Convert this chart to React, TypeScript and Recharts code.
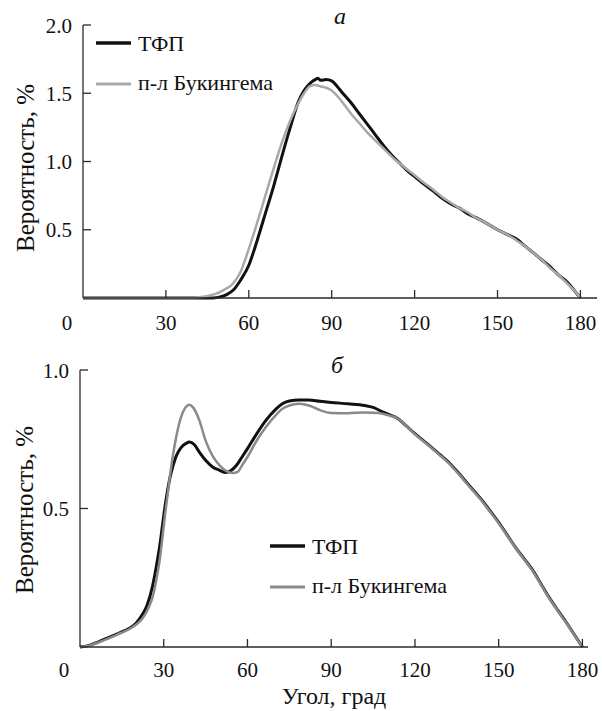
import React from 'react';
import { LineChart, Line, XAxis, YAxis, Legend } from 'recharts';

const FONT = "'Liberation Serif', 'Tinos', 'Times New Roman', 'DejaVu Serif', serif";

const angleTicks = [0, 30, 60, 90, 120, 150, 180];
const topValueTicks = [0.5, 1.0, 1.5, 2.0];
const bottomValueTicks = [0.5, 1.0];
const seriesNames = ['ТФП', 'п-л Букингема'];
const panelLabels = ['а', 'б'];
const axisTitles = { x: 'Угол, град', y: 'Вероятность, %' };

// Panel а
const topTfpAngles = [0, 10, 20, 30, 40, 45, 47, 50, 52, 54.5, 57, 60, 63, 66, 69, 72, 75, 78, 80, 82, 84, 85, 86, 88, 90, 92, 94, 97, 100, 103, 106, 109, 112, 115, 118, 120, 123, 127, 130, 133, 136, 139, 142, 145, 150, 154, 157, 160, 163, 166, 169, 172, 175, 178, 180];
const topTfpValues = [0, 0, 0, 0, 0, 0, 0, 0.01, 0.025, 0.06, 0.13, 0.24, 0.42, 0.62, 0.82, 1.04, 1.25, 1.44, 1.52, 1.57, 1.6, 1.61, 1.595, 1.6, 1.59, 1.55, 1.5, 1.43, 1.35, 1.27, 1.19, 1.11, 1.04, 0.98, 0.92, 0.89, 0.84, 0.78, 0.73, 0.69, 0.66, 0.62, 0.59, 0.56, 0.5, 0.46, 0.43, 0.38, 0.33, 0.28, 0.23, 0.17, 0.12, 0.05, 0];
const topBuckAngles = [0, 10, 20, 30, 40, 42, 45, 48, 51, 54, 57, 60, 63, 66, 69, 72, 75, 78, 80, 82, 84, 86, 88, 90, 92, 94, 97, 100, 103, 106, 109, 112, 115, 118, 120, 123, 127, 130, 133, 136, 139, 142, 145, 150, 154, 157, 160, 163, 166, 169, 172, 175, 178, 180];
const topBuckValues = [0, 0, 0, 0, 0, 0.005, 0.015, 0.03, 0.06, 0.1, 0.19, 0.36, 0.55, 0.75, 0.95, 1.14, 1.3, 1.43, 1.5, 1.55, 1.56, 1.55, 1.54, 1.52, 1.48, 1.43, 1.35, 1.28, 1.21, 1.15, 1.09, 1.03, 0.98, 0.93, 0.9, 0.85, 0.79, 0.74, 0.7, 0.66, 0.63, 0.59, 0.56, 0.5, 0.46, 0.42, 0.38, 0.33, 0.28, 0.22, 0.17, 0.11, 0.05, 0];

// Panel б
const botTfpAngles = [0, 3, 7, 10, 14, 17.7, 20, 22.5, 24, 26, 27.5, 28.5, 30.5, 32, 33.2, 34.5, 36.2, 38, 39.2, 41, 43, 45, 47.5, 50, 52.3, 54, 56, 58, 60, 63, 66.6, 70, 72.5, 75, 78.5, 82, 86, 90, 96, 102, 105, 108, 111, 114, 117, 120, 123, 126, 129, 132, 135, 138, 141, 144, 147, 150, 153, 156, 159, 162, 165, 168, 171, 174, 177, 180];
const botTfpValues = [0, 0.005, 0.02, 0.033, 0.05, 0.068, 0.085, 0.12, 0.15, 0.22, 0.3, 0.36, 0.51, 0.6, 0.65, 0.69, 0.72, 0.735, 0.74, 0.73, 0.7, 0.674, 0.65, 0.638, 0.63, 0.636, 0.655, 0.685, 0.716, 0.765, 0.818, 0.857, 0.878, 0.888, 0.892, 0.892, 0.887, 0.883, 0.878, 0.872, 0.865, 0.851, 0.838, 0.824, 0.797, 0.77, 0.745, 0.72, 0.694, 0.668, 0.635, 0.6, 0.565, 0.53, 0.49, 0.45, 0.405, 0.36, 0.32, 0.28, 0.23, 0.18, 0.135, 0.092, 0.046, 0];
const botBuckAngles = [0, 3, 7, 10, 14, 17.7, 20, 22.5, 24.5, 26, 27.5, 28.5, 30.5, 32, 33.2, 34.5, 36.2, 37.8, 39.2, 40.5, 42.7, 45, 47.5, 50, 52.5, 54.6, 56.5, 58, 60, 63, 66.6, 70, 72.5, 75, 78.5, 82, 86, 90, 96, 102, 107, 111, 114, 117, 120, 123, 126, 129, 132, 135, 138, 141, 144, 147, 150, 153, 156, 159, 162, 165, 168, 171, 174, 177, 180];
const botBuckValues = [0, 0.004, 0.018, 0.03, 0.048, 0.065, 0.08, 0.105, 0.14, 0.18, 0.25, 0.31, 0.48, 0.6, 0.686, 0.76, 0.83, 0.865, 0.875, 0.865, 0.82, 0.745, 0.69, 0.656, 0.635, 0.628, 0.632, 0.655, 0.686, 0.74, 0.794, 0.835, 0.86, 0.872, 0.878, 0.872, 0.855, 0.845, 0.844, 0.847, 0.845, 0.835, 0.824, 0.797, 0.768, 0.743, 0.718, 0.692, 0.665, 0.632, 0.597, 0.562, 0.527, 0.487, 0.447, 0.403, 0.358, 0.318, 0.277, 0.228, 0.178, 0.133, 0.09, 0.045, 0];

const toPoints = (angles: number[], values: number[]) =>
  angles.map((a, i) => ({ angle: a, value: values[i] }));

const AXIS = '#2a2a2a';
const TEXT = '#111';
const txt = (size: number, extra: any = {}) => ({ fontFamily: FONT, fontSize: size, fill: TEXT, ...extra });

const makeXTick = (offset: number) => (props: any) => {
  const { x, y, payload } = props;
  const v = payload.value;
  if (v === 0) {
    return (
      <text x={x - 16} y={y + offset} textAnchor="middle" style={txt(21)}>0</text>
    );
  }
  return (
    <g>
      <line x1={x} y1={y} x2={x} y2={y - 8} stroke={AXIS} strokeWidth={1.3} />
      <text x={x} y={y + offset} textAnchor="middle" style={txt(21)}>{v}</text>
    </g>
  );
};
const TopXTick = makeXTick(32);
const BotXTick = makeXTick(30);

const YTick = (props: any) => {
  const { x, y, payload } = props;
  return (
    <g>
      <line x1={x} y1={y} x2={x + 8} y2={y} stroke={AXIS} strokeWidth={1.3} />
      <text x={x - 11} y={y} dy="0.36em" textAnchor="end" style={txt(21)}>
        {Number(payload.value).toFixed(1)}
      </text>
    </g>
  );
};

const makeLegend = (lx: number, ly: number, gap: number, grey: string, panel: string, px: number, py: number) => () => (
  <svg width={602} height={371} style={{ position: 'absolute', left: 0, top: 0, overflow: 'visible' }}>
    <line x1={lx} y1={ly} x2={lx + 35} y2={ly} stroke="#111" strokeWidth={3.5} />
    <text x={lx + 42} y={ly + 8} style={txt(22)}>{seriesNames[0]}</text>
    <line x1={lx} y1={ly + gap} x2={lx + 35} y2={ly + gap} stroke={grey} strokeWidth={3} />
    <text x={lx + 42} y={ly + gap + 6} style={txt(22)}>{seriesNames[1]}</text>
    <text x={px} y={py} textAnchor="middle" style={txt(24, { fontStyle: 'italic' })}>{panel}</text>
  </svg>
);

const YTitle = (cx: number, cy: number) => () => (
  <text x={cx} y={cy} transform={`rotate(-90 ${cx} ${cy})`} textAnchor="middle" style={txt(25)}>
    {axisTitles.y}
  </text>
);

const XTitle = () => (
  <text x={334} y={364} textAnchor="middle" style={txt(24)}>{axisTitles.x}</text>
);

export default function App() {
  const topGrey = '#a9a9a9';
  const botGrey = '#8a8a8a';
  return (
    <div style={{ position: 'absolute', left: 0, top: 0, width: 602, height: 711, background: '#fff', fontFamily: FONT }}>
      <div style={{ position: 'absolute', left: 0, top: 0 }}>
        <LineChart width={602} height={340} margin={{ top: 25, right: 5, bottom: 0, left: 0 }}>
          <XAxis
            dataKey="angle"
            type="number"
            domain={[0, 186]}
            ticks={angleTicks}
            allowDuplicatedCategory={false}
            height={42}
            tickSize={0}
            tickMargin={0}
            tickLine={false}
            tick={<TopXTick />}
            axisLine={{ stroke: AXIS, strokeWidth: 1.3 }}
          />
          <YAxis
            type="number"
            domain={[0, 2]}
            ticks={topValueTicks}
            width={83}
            tickSize={0}
            tickMargin={0}
            tickLine={false}
            tick={<YTick />}
            axisLine={{ stroke: AXIS, strokeWidth: 1.3 }}
            label={{ content: YTitle(34, 168) }}
          />
          <Legend
            layout="vertical"
            align="center"
            verticalAlign="middle"
            wrapperStyle={{ position: 'absolute', left: 0, top: 0, width: 602, height: 340 }}
            content={makeLegend(96, 43, 41, topGrey, panelLabels[0], 340, 24)}
          />
          <Line data={toPoints(topTfpAngles, topTfpValues)} dataKey="value" type="monotone" stroke="#111" strokeWidth={3} dot={false} isAnimationActive={false} />
          <Line data={toPoints(topBuckAngles, topBuckValues)} dataKey="value" type="monotone" stroke={topGrey} strokeWidth={2.5} dot={false} isAnimationActive={false} />
        </LineChart>
      </div>
      <div style={{ position: 'absolute', left: 0, top: 340 }}>
        <LineChart width={602} height={371} margin={{ top: 30, right: 14, bottom: 0, left: 0 }}>
          <XAxis
            dataKey="angle"
            type="number"
            domain={[0, 182]}
            ticks={angleTicks}
            allowDuplicatedCategory={false}
            height={64}
            tickSize={0}
            tickMargin={0}
            tickLine={false}
            tick={<BotXTick />}
            axisLine={{ stroke: AXIS, strokeWidth: 1.3 }}
            label={{ content: XTitle }}
          />
          <YAxis
            type="number"
            domain={[0, 1]}
            ticks={bottomValueTicks}
            width={80}
            tickSize={0}
            tickMargin={0}
            tickLine={false}
            tick={<YTick />}
            axisLine={{ stroke: AXIS, strokeWidth: 1.3 }}
            label={{ content: YTitle(33, 170) }}
          />
          <Legend
            layout="vertical"
            align="center"
            verticalAlign="middle"
            wrapperStyle={{ position: 'absolute', left: 0, top: 0, width: 602, height: 371 }}
            content={makeLegend(270, 206, 41, botGrey, panelLabels[1], 337, 33)}
          />
          <Line data={toPoints(botTfpAngles, botTfpValues)} dataKey="value" type="monotone" stroke="#111" strokeWidth={3} dot={false} isAnimationActive={false} />
          <Line data={toPoints(botBuckAngles, botBuckValues)} dataKey="value" type="monotone" stroke={botGrey} strokeWidth={2.5} dot={false} isAnimationActive={false} />
        </LineChart>
      </div>
    </div>
  );
}
